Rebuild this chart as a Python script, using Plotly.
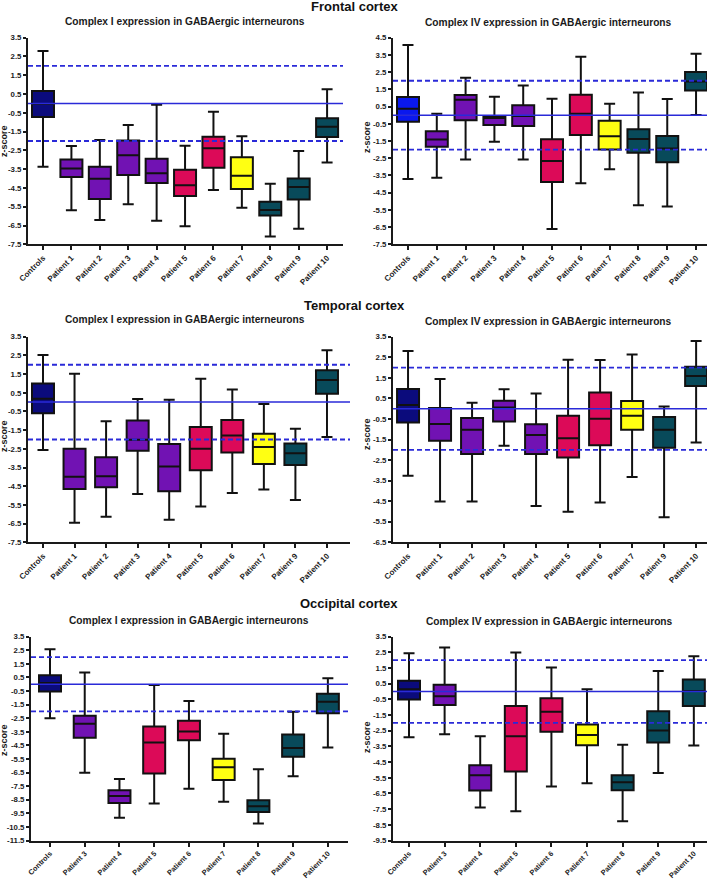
import plotly.graph_objects as go

W, H = 709, 880

# ---------------- DATA ----------------
# Frontal cortex, Complex I
fci_cats = ["Controls", "Patient 1", "Patient 2", "Patient 3", "Patient 4", "Patient 5",
            "Patient 6", "Patient 7", "Patient 8", "Patient 9", "Patient 10"]
fci_min = [-3.37, -5.69, -6.21, -5.37, -6.24, -6.54, -4.61, -5.55, -7.09, -6.67, -3.14]
fci_q1 = [-0.72, -3.92, -5.09, -3.81, -4.24, -4.93, -3.42, -4.56, -5.96, -5.11, -1.79]
fci_med = [-0.03, -3.47, -4.01, -2.76, -3.72, -4.36, -2.39, -3.85, -5.67, -4.45, -1.24]
fci_q3 = [0.66, -2.98, -3.37, -1.98, -2.94, -3.53, -1.77, -2.87, -5.23, -3.99, -0.79]
fci_max = [2.79, -2.27, -1.95, -1.15, -0.07, -2.25, -0.44, -1.75, -4.27, -2.53, 0.75]

# Frontal cortex, Complex IV
fciv_cats = fci_cats
fciv_min = [-3.71, -3.63, -2.58, -1.54, -2.58, -6.61, -3.96, -3.14, -5.23, -5.31, 0.01]
fciv_q1 = [-0.38, -1.83, -0.30, -0.57, -0.63, -3.88, -1.15, -2.00, -2.18, -2.74, 1.44]
fciv_med = [0.38, -1.42, 0.90, -0.16, -0.05, -2.66, 0.09, -1.23, -1.38, -1.94, 1.95]
fciv_q3 = [1.06, -0.94, 1.17, -0.05, 0.57, -1.40, 1.19, -0.32, -0.82, -1.21, 2.51]
fciv_max = [4.07, 0.09, 2.18, 1.07, 1.73, 0.96, 3.40, 0.67, 1.31, 0.94, 3.57]

# Temporal cortex, Complex I
tci_cats = ["Controls", "Patient 1", "Patient 2", "Patient 3", "Patient 4", "Patient 5",
            "Patient 6", "Patient 7", "Patient 9", "Patient 10"]
tci_min = [-2.56, -6.45, -6.13, -4.92, -6.29, -5.59, -4.86, -4.67, -5.24, -1.87]
tci_q1 = [-0.60, -4.65, -4.56, -2.60, -4.77, -3.65, -2.69, -3.31, -3.36, 0.45]
tci_med = [0.18, -3.99, -3.97, -2.01, -3.45, -2.49, -1.78, -2.40, -2.74, 1.18]
tci_q3 = [0.99, -2.49, -2.95, -0.99, -2.24, -1.33, -0.96, -1.69, -2.21, 1.70]
tci_max = [2.52, 1.52, -1.03, 0.17, 0.13, 1.25, 0.67, -0.10, -1.42, 2.77]

# Temporal cortex, Complex IV
tciv_cats = tci_cats
tciv_min = [-3.26, -4.51, -4.52, -1.80, -4.73, -5.01, -4.57, -3.32, -5.28, -1.64]
tciv_q1 = [-0.67, -1.56, -2.21, -0.62, -2.21, -2.38, -1.78, -1.02, -1.90, 1.10]
tciv_med = [0.18, -0.75, -1.02, 0.06, -1.28, -1.44, -0.49, -0.34, -1.02, 1.59]
tciv_q3 = [0.96, 0.03, -0.45, 0.39, -0.76, -0.34, 0.78, 0.37, -0.41, 2.04]
tciv_max = [2.80, 1.44, 0.29, 0.94, 0.74, 2.38, 2.37, 2.64, 0.10, 3.29]

# Occipital cortex, Complex I
oci_cats = ["Controls", "Patient 3", "Patient 4", "Patient 5", "Patient 6", "Patient 7",
            "Patient 8", "Patient 9", "Patient 10"]
oci_min = [-2.50, -6.52, -9.83, -8.77, -7.70, -8.65, -10.24, -6.78, -4.65]
oci_q1 = [-0.54, -3.93, -8.74, -6.57, -4.12, -7.05, -9.40, -5.33, -2.14]
oci_med = [0.09, -2.91, -8.23, -4.29, -3.47, -6.11, -8.98, -4.70, -1.29]
oci_q3 = [0.67, -2.31, -7.80, -3.11, -2.69, -5.48, -8.53, -3.69, -0.69]
oci_max = [2.58, 0.86, -6.98, -0.06, -1.24, -3.64, -6.25, -2.02, 0.45]

# Occipital cortex, Complex IV
ociv_cats = oci_cats
ociv_min = [-2.92, -2.73, -7.40, -7.63, -6.06, -5.85, -8.28, -5.20, -3.44]
ociv_q1 = [-0.50, -0.86, -6.31, -5.10, -2.56, -3.42, -6.29, -3.25, -0.92]
ociv_med = [0.15, -0.30, -5.33, -2.85, -1.28, -2.77, -5.79, -2.48, 0.04]
ociv_q3 = [0.69, 0.44, -4.70, -0.92, -0.42, -2.10, -5.33, -1.26, 0.77]
ociv_max = [2.45, 2.81, -2.85, 2.49, 1.53, 0.15, -3.40, 1.32, 2.26]

# reference z-score lines
ref_solid = [0]
ref_dashed = [2, -2]

# y tick labels
ticks_35_75 = [3.5, 2.5, 1.5, 0.5, -0.5, -1.5, -2.5, -3.5, -4.5, -5.5, -6.5, -7.5]
ticks_45_75 = [4.5, 3.5, 2.5, 1.5, 0.5, -0.5, -1.5, -2.5, -3.5, -4.5, -5.5, -6.5, -7.5]
ticks_35_65 = [3.5, 2.5, 1.5, 0.5, -0.5, -1.5, -2.5, -3.5, -4.5, -5.5, -6.5]
ticks_35_115 = [3.5, 2.5, 1.5, 0.5, -0.5, -1.5, -2.5, -3.5, -4.5, -5.5, -6.5, -7.5,
                -8.5, -9.5, -10.5, -11.5]
ticks_35_95 = [3.5, 2.5, 1.5, 0.5, -0.5, -1.5, -2.5, -3.5, -4.5, -5.5, -6.5, -7.5,
               -8.5, -9.5]

section_titles = ["Frontal cortex", "Temporal cortex", "Occipital cortex"]
panel_titles = ["Complex I expression in GABAergic interneurons",
                "Complex IV expression in GABAergic interneurons"]
ylabel = "z-score"

# ---------------- STYLE ----------------
NAVY = "#0b0b7c"
BLUE = "#0a18ee"
PURPLE = "#7112b3"
CRIMSON = "#dc0a58"
YELLOW = "#ffff12"
TEAL = "#084a5a"
group_color = {"Patient 1": PURPLE, "Patient 2": PURPLE, "Patient 3": PURPLE,
               "Patient 4": PURPLE, "Patient 5": CRIMSON, "Patient 6": CRIMSON,
               "Patient 7": YELLOW, "Patient 8": TEAL, "Patient 9": TEAL,
               "Patient 10": TEAL}
LINE_BLUE = "#2a2ad8"
FONT = "Liberation Sans, Arial, sans-serif"

panels = [
    dict(cats=fci_cats, mn=fci_min, q1=fci_q1, md=fci_med, q3=fci_q3, mx=fci_max,
         ticks=ticks_35_75, ctrl=NAVY, px=(28, 343), py=(37.7, 244.3), xfs=8,
         xr=(-0.528, 10.56), title=panel_titles[0], tpos=(185, 21.7), zpos=(4, 141)),
    dict(cats=fciv_cats, mn=fciv_min, q1=fciv_q1, md=fciv_med, q3=fciv_q3, mx=fciv_max,
         ticks=ticks_45_75, ctrl=BLUE, px=(393, 707), py=(37.7, 244.3), xfs=8,
         xr=(-0.52, 10.38), title=panel_titles[1], tpos=(548, 22), zpos=(367, 137)),
    dict(cats=tci_cats, mn=tci_min, q1=tci_q1, md=tci_med, q3=tci_q3, mx=tci_max,
         ticks=ticks_35_75, ctrl=NAVY, px=(28, 350), py=(336.7, 542.3), xfs=8,
         xr=(-0.475, 9.73), title=panel_titles[0], tpos=(185, 319.5), zpos=(4, 436)),
    dict(cats=tciv_cats, mn=tciv_min, q1=tciv_q1, md=tciv_med, q3=tciv_q3, mx=tciv_max,
         ticks=ticks_35_65, ctrl=NAVY, px=(393, 707), py=(336.7, 542.3), xfs=8,
         xr=(-0.47, 9.34), title=panel_titles[1], tpos=(548, 321), zpos=(367, 434)),
    dict(cats=oci_cats, mn=oci_min, q1=oci_q1, md=oci_med, q3=oci_q3, mx=oci_max,
         ticks=ticks_35_115, ctrl=NAVY, px=(31, 348), py=(636.7, 840.5), xfs=7.3,
         xr=(-0.547, 8.58), title=panel_titles[0], tpos=(189, 620.7), zpos=(4, 740)),
    dict(cats=ociv_cats, mn=ociv_min, q1=ociv_q1, md=ociv_med, q3=ociv_q3, mx=ociv_max,
         ticks=ticks_35_95, ctrl=NAVY, px=(393, 707), py=(636.7, 840.5), xfs=7.3,
         xr=(-0.45, 8.37), title=panel_titles[1], tpos=(549, 621), zpos=(367, 737)),
]

fig = go.Figure()
layout = dict(width=W, height=H, margin=dict(l=0, r=0, t=0, b=0, autoexpand=False),
              template="none",
              paper_bgcolor="white", plot_bgcolor="white", showlegend=False,
              boxmode="overlay", annotations=[], shapes=[])


def tick_text(v):
    return f"{v:.1f}"  # ASCII hyphen as in original


for i, p in enumerate(panels):
    n = i + 1
    xa = "x" if n == 1 else f"x{n}"
    ya = "y" if n == 1 else f"y{n}"
    spacing_px = (p["px"][1] - p["px"][0]) / (p["xr"][1] - p["xr"][0])
    bw = 22.0 / spacing_px
    for j, c in enumerate(p["cats"]):
        col = p["ctrl"] if c == "Controls" else group_color[c]
        fig.add_trace(go.Box(
            x=[c], q1=[p["q1"][j]], median=[p["md"][j]], q3=[p["q3"][j]],
            lowerfence=[p["mn"][j]], upperfence=[p["mx"][j]],
            fillcolor=col, line=dict(color="#111111", width=2),
            whiskerwidth=0.5, width=bw, boxpoints=False, hoverinfo="skip",
            xaxis=xa, yaxis=ya, showlegend=False))
    ymin, ymax = p["ticks"][-1], p["ticks"][0]
    layout["xaxis" if n == 1 else f"xaxis{n}"] = dict(
        domain=[p["px"][0] / W, p["px"][1] / W], anchor=ya, automargin=False,
        type="category", categoryorder="array", categoryarray=p["cats"],
        range=list(p["xr"]), showline=True, linecolor="#1a1a1a", linewidth=2,
        ticks="outside", ticklen=4, tickwidth=1.5, tickcolor="#1a1a1a",
        tickangle=-45, showgrid=False, zeroline=False, fixedrange=True,
        tickfont=dict(family=FONT, size=p["xfs"], color="#1a1a1a", weight="bold"))
    layout["yaxis" if n == 1 else f"yaxis{n}"] = dict(
        domain=[1 - p["py"][1] / H, 1 - p["py"][0] / H], anchor=xa, automargin=False,
        range=[ymin, ymax], showline=True, linecolor="#1a1a1a", linewidth=2,
        ticks="outside", ticklen=3, tickwidth=1.5, tickcolor="#1a1a1a",
        tickvals=p["ticks"], ticktext=[tick_text(v) for v in p["ticks"]],
        showgrid=False, zeroline=False, fixedrange=True,
        tickfont=dict(family=FONT, size=7.8, color="#1a1a1a", weight="bold"))
    for v in ref_solid:
        layout["shapes"].append(dict(
            type="line", xref=f"{xa} domain", yref=ya, x0=0, x1=1, y0=v, y1=v,
            line=dict(color=LINE_BLUE, width=1.5), layer="above"))
    for v in ref_dashed:
        layout["shapes"].append(dict(
            type="line", xref=f"{xa} domain", yref=ya, x0=0, x1=1, y0=v, y1=v,
            line=dict(color=LINE_BLUE, width=1.8, dash="5px,3px"), layer="above"))
    layout["annotations"].append(dict(
        text=p["title"], xref="paper", yref="paper",
        x=p["tpos"][0] / W, y=1 - p["tpos"][1] / H, xanchor="center", yanchor="middle",
        showarrow=False, font=dict(family=FONT, size=10.2, color="#1a1a1a", weight="bold")))
    layout["annotations"].append(dict(
        text=ylabel, xref="paper", yref="paper", textangle=-90,
        x=p["zpos"][0] / W, y=1 - p["zpos"][1] / H, xanchor="center", yanchor="middle",
        showarrow=False, font=dict(family=FONT, size=9, color="#1a1a1a", weight="bold")))

sec_pos = [(354, 6), (354, 305), (349, 603)]
for t, (sx, sy) in zip(section_titles, sec_pos):
    layout["annotations"].append(dict(
        text=t, xref="paper", yref="paper", x=sx / W, y=1 - sy / H,
        xanchor="center", yanchor="middle", showarrow=False,
        font=dict(family=FONT, size=13, color="#111111", weight="bold")))

fig.update_layout(**layout)
fig.write_html("out.html", config={"displayModeBar": False},
               post_script="document.body.style.margin='0';document.body.style.overflow='hidden';")
